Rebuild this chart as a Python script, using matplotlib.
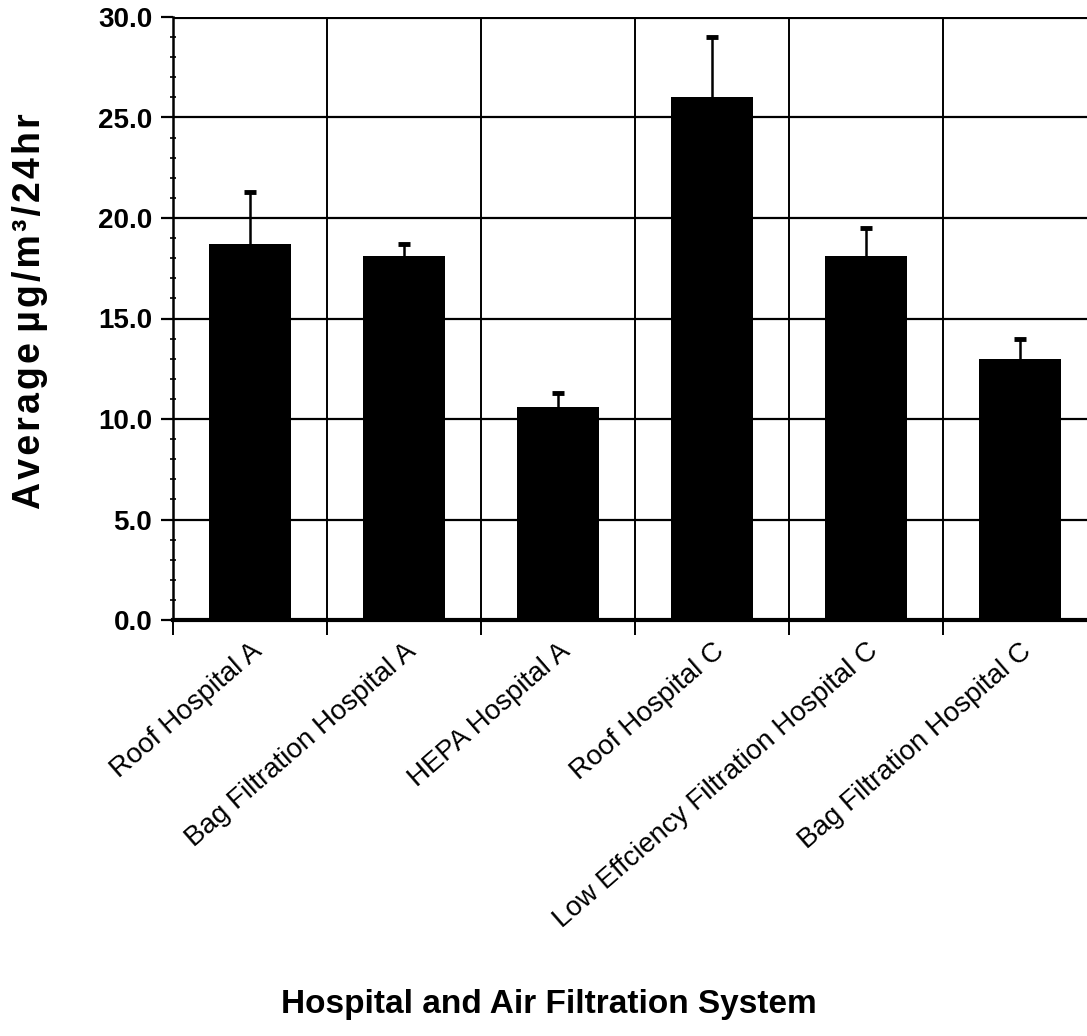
import numpy as np
import matplotlib
matplotlib.use("Agg")
import matplotlib.pyplot as plt
from matplotlib.ticker import MultipleLocator, FixedLocator, FormatStrFormatter

# ---------------------------------------------------------------------------
# Data
# ---------------------------------------------------------------------------
sites = [
    "Roof Hospital A",
    "Bag Filtration Hospital A",
    "HEPA Hospital A",
    "Roof Hospital C",
    "Low Effciency Filtration Hospital C",
    "Bag Filtration Hospital C",
]
means = [18.7, 18.1, 10.6, 26.0, 18.1, 13.0]
errors = [2.6, 0.6, 0.7, 3.0, 1.4, 1.0]

FONT = ["Liberation Sans", "DejaVu Sans"]
plt.rcParams["font.family"] = FONT

fig = plt.figure(figsize=(10.87, 10.36), dpi=100)
ax = fig.add_axes([173 / 1087, 416 / 1036, 924 / 1087, 603 / 1036])

x = np.arange(len(sites))
ax.bar(x, means, width=0.53, color="black", zorder=3)
_, caps, _ = ax.errorbar(x, means, yerr=[np.zeros(len(errors)), errors],
                         fmt="none", ecolor="black", elinewidth=1.8,
                         capsize=4, capthick=3.5, zorder=4)
caps[0].set_visible(False)   # only the upper whisker is drawn

ax.set_xlim(-0.5, len(sites) - 0.5)
ax.set_ylim(0, 30)

# horizontal grid at the major y ticks
ax.yaxis.set_major_locator(MultipleLocator(5))
ax.yaxis.set_minor_locator(MultipleLocator(1))
ax.yaxis.set_major_formatter(FormatStrFormatter("%.1f"))
ax.grid(axis="y", which="major", color="black", lw=1.6, zorder=1)

# vertical separators between categories
bounds = np.arange(len(sites) + 1) - 0.5
for b in bounds[1:-1]:
    ax.axvline(b, color="black", lw=1.4, zorder=1)
ax.axhline(30, color="black", lw=3, zorder=2)

ax.set_xticks(x)
ax.set_xticklabels(sites, rotation=41, ha="right", va="top",
                   rotation_mode="anchor", fontsize=20)
ax.xaxis.set_minor_locator(FixedLocator(bounds))
ax.tick_params(axis="x", which="major", length=0, pad=13)
ax.tick_params(axis="x", which="minor", length=11, width=1.4, direction="out")
ax.tick_params(axis="y", which="major", length=9, width=1.6, direction="out",
               labelsize=20, pad=6)
ax.tick_params(axis="y", which="minor", length=4, width=1.2, direction="inout")
for lab in ax.get_yticklabels():
    lab.set_fontweight("bold")

for side in ("top", "right"):
    ax.spines[side].set_visible(False)
ax.spines["left"].set_linewidth(1.8)
ax.spines["bottom"].set_linewidth(3)

hair = "\u200a"
ylab = hair.join("Average") + " " + hair.join("\u00b5g/m\u00b3/24hr")
fig.text(30 / 1087, 0.70, ylab, rotation=90, ha="center", va="center",
         fontsize=27, fontweight="bold", family=FONT)
fig.text(549 / 1087, 0.03, "Hospital and Air Filtration System",
         ha="center", va="center", fontsize=24, fontweight="bold")

fig.savefig("out.png", dpi=100, facecolor="white")
